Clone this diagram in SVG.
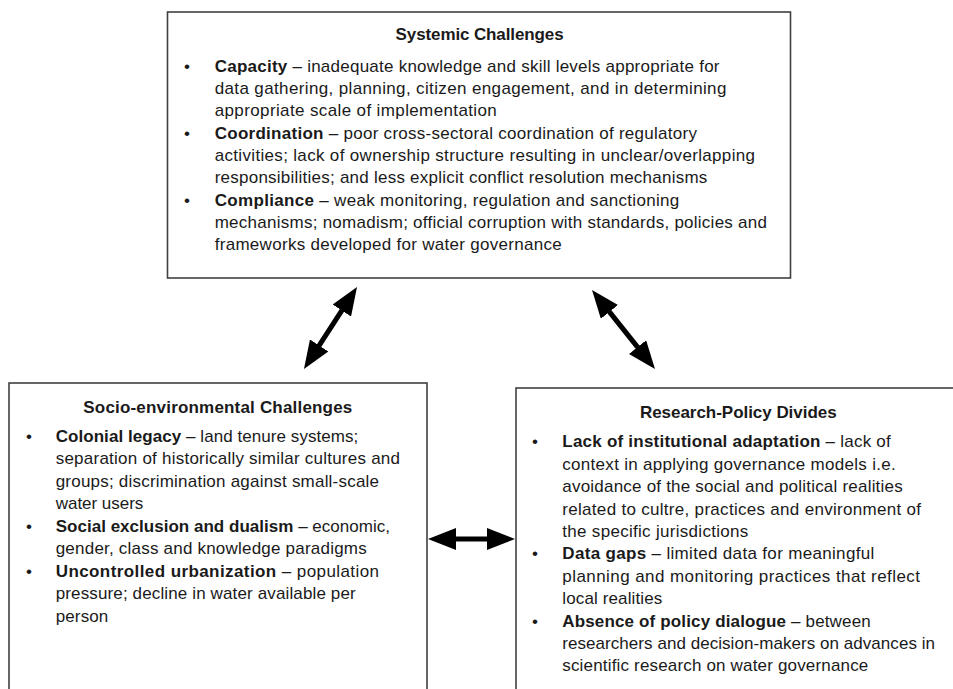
<svg xmlns="http://www.w3.org/2000/svg" width="953" height="689" viewBox="0 0 953 689">
<style>
  .box { fill: #ffffff; stroke: #404040; stroke-width: 1.6; }
  text { font-family: "Liberation Sans", Arial, sans-serif; font-size: 17px; fill: #1a1a1a; }
  .title { font-weight: bold; text-anchor: middle; }
  .b { font-weight: bold; }
  .conn { stroke: #000000; stroke-width: 5; fill: none; marker-start: url(#ah); marker-end: url(#ah); }
</style>
<defs>
  <marker id="ah" markerUnits="userSpaceOnUse" markerWidth="28" markerHeight="22" refX="16" refY="11" orient="auto-start-reverse">
    <path d="M0,0 L28,11 L0,22 z" fill="#000000"/>
  </marker>
</defs>
<rect width="953" height="689" fill="#ffffff"/>

<g id="systemic">
  <rect class="box" x="167.5" y="12" width="623" height="266"/>
  <text class="title" x="479.6" y="40" textLength="168">Systemic Challenges</text>
  <text x="184" y="71.7">•</text>
  <text x="214.7" y="71.7" textLength="504.8"><tspan class="b">Capacity</tspan> – inadequate knowledge and skill levels appropriate for</text>
  <text x="214.7" y="94" textLength="511.7">data gathering, planning, citizen engagement, and in determining</text>
  <text x="214.7" y="116.3" textLength="282.1">appropriate scale of implementation</text>
  <text x="184" y="138.6">•</text>
  <text x="214.7" y="138.6" textLength="482.3"><tspan class="b">Coordination</tspan> – poor cross-sectoral coordination of regulatory</text>
  <text x="214.7" y="160.9" textLength="540.3">activities; lack of ownership structure resulting in unclear/overlapping</text>
  <text x="214.7" y="183.2" textLength="492.6">responsibilities; and less explicit conflict resolution mechanisms</text>
  <text x="184" y="205.5">•</text>
  <text x="214.7" y="205.5" textLength="464.6"><tspan class="b">Compliance</tspan> – weak monitoring, regulation and sanctioning</text>
  <text x="214.7" y="227.8" textLength="552.3">mechanisms; nomadism; official corruption with standards, policies and</text>
  <text x="214.7" y="250.1" textLength="347.1">frameworks developed for water governance</text>
</g>

<g id="socio-environmental">
  <rect class="box" x="9" y="383" width="418" height="330"/>
  <text class="title" x="217.8" y="412.7" textLength="269">Socio-environmental Challenges</text>
  <text x="26" y="441.7">•</text>
  <text x="55.7" y="441.7" textLength="302.6"><tspan class="b">Colonial legacy</tspan> – land tenure systems;</text>
  <text x="55.7" y="464.2" textLength="344.3">separation of historically similar cultures and</text>
  <text x="55.7" y="486.7" textLength="323.3">groups; discrimination against small-scale</text>
  <text x="55.7" y="509.2" textLength="87.6">water users</text>
  <text x="26" y="531.7">•</text>
  <text x="55.7" y="531.7" textLength="334.3"><tspan class="b">Social exclusion and dualism</tspan> – economic,</text>
  <text x="55.7" y="554.2" textLength="311">gender, class and knowledge paradigms</text>
  <text x="26" y="576.7">•</text>
  <text x="55.7" y="576.7" textLength="323.3"><tspan class="b">Uncontrolled urbanization</tspan> – population</text>
  <text x="55.7" y="599.2" textLength="300">pressure; decline in water available per</text>
  <text x="55.7" y="621.7" textLength="52.6">person</text>
</g>

<g id="research-policy">
  <rect class="box" x="516" y="388" width="450" height="330"/>
  <text class="title" x="738.3" y="418.3" textLength="196.7">Research-Policy Divides</text>
  <text x="532" y="447.3">•</text>
  <text x="562.3" y="447.3" textLength="328.4"><tspan class="b">Lack of institutional adaptation</tspan> – lack of</text>
  <text x="562.3" y="469.7" textLength="333.4">context in applying governance models i.e.</text>
  <text x="562.3" y="492.1" textLength="340.4">avoidance of the social and political realities</text>
  <text x="562.3" y="514.5" textLength="358.7">related to cultre, practices and environment of</text>
  <text x="562.3" y="536.9" textLength="186">the specific jurisdictions</text>
  <text x="532" y="559.3">•</text>
  <text x="562.3" y="559.3" textLength="312"><tspan class="b">Data gaps</tspan> – limited data for meaningful</text>
  <text x="562.3" y="581.7" textLength="357.7">planning and monitoring practices that reflect</text>
  <text x="562.3" y="604.1" textLength="100">local realities</text>
  <text x="532" y="626.5">•</text>
  <text x="562.3" y="626.5" textLength="308.4"><tspan class="b">Absence of policy dialogue</tspan> – between</text>
  <text x="562.3" y="648.9" textLength="372.7">researchers and decision-makers on advances in</text>
  <text x="562.3" y="671.3" textLength="306">scientific research on water governance</text>
</g>

<g id="connectors">
  <line class="conn" x1="350.5" y1="297.1" x2="310.5" y2="358.9"/>
  <line class="conn" x1="599.5" y1="299.4" x2="647.5" y2="359.6"/>
  <line class="conn" x1="440" y1="539" x2="503" y2="539"/>
</g>
</svg>
